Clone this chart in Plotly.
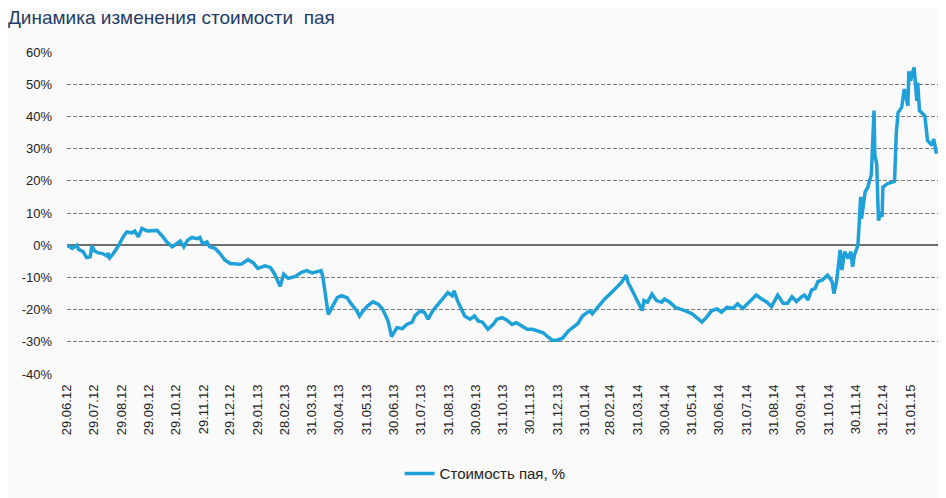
import plotly.graph_objects as go

# chart data
dates = [
    "2012-06-29", "2012-07-05", "2012-07-10", "2012-07-12", "2012-07-17", "2012-07-21",
    "2012-07-25", "2012-07-27", "2012-07-30", "2012-08-03", "2012-08-08", "2012-08-13",
    "2012-08-14", "2012-08-16", "2012-08-20", "2012-08-25", "2012-08-31", "2012-09-04",
    "2012-09-10", "2012-09-13", "2012-09-17", "2012-09-21", "2012-09-27", "2012-10-02",
    "2012-10-08", "2012-10-13", "2012-10-19", "2012-10-25", "2012-10-30", "2012-11-03",
    "2012-11-07", "2012-11-11", "2012-11-16", "2012-11-22", "2012-11-25", "2012-11-28",
    "2012-12-03", "2012-12-06", "2012-12-12", "2012-12-17", "2012-12-23", "2012-12-29",
    "2013-01-09", "2013-01-11", "2013-01-18", "2013-01-24", "2013-01-29", "2013-02-06",
    "2013-02-12", "2013-02-17", "2013-02-23", "2013-02-27", "2013-03-04", "2013-03-12",
    "2013-03-19", "2013-03-25", "2013-03-31", "2013-04-05", "2013-04-10", "2013-04-12",
    "2013-04-15", "2013-04-18", "2013-04-22", "2013-04-28", "2013-05-03", "2013-05-09",
    "2013-05-14", "2013-05-20", "2013-05-23", "2013-05-27", "2013-06-01", "2013-06-07",
    "2013-06-13", "2013-06-18", "2013-06-24", "2013-06-28", "2013-07-04", "2013-07-10",
    "2013-07-15", "2013-07-21", "2013-07-24", "2013-07-30", "2013-08-04", "2013-08-08",
    "2013-08-13", "2013-08-19", "2013-08-24", "2013-08-30", "2013-09-04", "2013-09-06",
    "2013-09-10", "2013-09-15", "2013-09-18", "2013-09-24", "2013-09-29", "2013-10-03",
    "2013-10-08", "2013-10-14", "2013-10-20", "2013-10-24", "2013-10-30", "2013-11-04",
    "2013-11-10", "2013-11-15", "2013-11-21", "2013-11-27", "2013-12-03", "2013-12-09",
    "2013-12-15", "2013-12-19", "2013-12-25", "2013-12-31", "2014-01-06", "2014-01-12",
    "2014-01-17", "2014-01-23", "2014-01-28", "2014-02-05", "2014-02-08", "2014-02-14",
    "2014-02-22", "2014-03-02", "2014-03-08", "2014-03-13", "2014-03-18", "2014-03-20",
    "2014-03-24", "2014-03-28", "2014-03-31", "2014-04-05", "2014-04-07", "2014-04-11",
    "2014-04-16", "2014-04-21", "2014-04-27", "2014-04-30", "2014-05-06", "2014-05-12",
    "2014-05-17", "2014-05-23", "2014-05-31", "2014-06-05", "2014-06-11", "2014-06-16",
    "2014-06-22", "2014-06-28", "2014-07-03", "2014-07-09", "2014-07-16", "2014-07-21",
    "2014-07-27", "2014-08-01", "2014-08-07", "2014-08-11", "2014-08-17", "2014-08-23",
    "2014-08-28", "2014-09-04", "2014-09-10", "2014-09-15", "2014-09-20", "2014-09-25",
    "2014-10-01", "2014-10-04", "2014-10-08", "2014-10-12", "2014-10-16", "2014-10-19",
    "2014-10-24", "2014-10-30", "2014-11-04", "2014-11-06", "2014-11-09", "2014-11-13",
    "2014-11-15", "2014-11-18", "2014-11-22", "2014-11-25", "2014-11-27", "2014-11-29",
    "2014-12-03", "2014-12-04", "2014-12-06", "2014-12-07", "2014-12-11", "2014-12-14",
    "2014-12-17", "2014-12-18", "2014-12-21", "2014-12-22", "2014-12-24", "2014-12-25",
    "2014-12-26", "2014-12-29", "2014-12-30", "2014-12-31", "2015-01-05", "2015-01-13",
    "2015-01-15", "2015-01-17", "2015-01-21", "2015-01-24", "2015-01-28", "2015-01-29",
    "2015-01-31", "2015-02-02", "2015-02-04", "2015-02-07", "2015-02-08", "2015-02-10",
    "2015-02-16", "2015-02-19", "2015-02-24", "2015-02-26", "2015-03-01",
]
values = [
    0.0, -1.0, 0.0, -1.3, -2.0, -3.8,
    -3.6, -0.2, -1.8, -2.4, -2.6, -3.4,
    -2.4, -3.9, -2.6, -0.5, 2.6, 4.1,
    3.8, 4.4, 2.6, 5.2, 4.4, 4.6,
    4.6, 3.1, 1.0, -0.5, 0.5, 1.3,
    -0.5, 1.5, 2.4, 2.0, 2.4, 0.5,
    1.0, -0.5, -1.0, -2.4, -4.6, -5.7,
    -5.9, -5.8, -4.5, -5.5, -7.2, -6.4,
    -6.9, -9.0, -12.8, -9.0, -10.3, -9.7,
    -8.4, -7.9, -8.6, -8.2, -7.9, -10.0,
    -16.8, -21.5, -19.4, -16.3, -15.7, -16.3,
    -18.3, -20.4, -22.0, -20.4, -18.9, -17.6,
    -18.3, -19.9, -23.5, -28.4, -25.6, -25.9,
    -24.6, -23.9, -22.0, -20.4, -20.9, -23.0,
    -20.4, -18.3, -16.8, -14.7, -15.7, -14.2,
    -17.3, -20.4, -22.0, -23.0, -22.0, -23.5,
    -23.9, -26.1, -24.6, -23.0, -22.5, -23.2,
    -24.6, -24.1, -25.1, -26.1, -26.1, -26.7,
    -27.2, -28.2, -29.5, -29.5, -28.8, -26.7,
    -25.6, -24.3, -22.0, -20.4, -21.3, -19.3,
    -16.7, -14.6, -12.8, -11.5, -9.3, -11.5,
    -13.6, -15.7, -17.7, -20.3, -17.2, -17.7,
    -15.2, -17.2, -17.7, -16.7, -17.7, -19.3,
    -19.8, -20.3, -21.3, -22.4, -23.9, -22.4,
    -20.3, -19.8, -20.8, -19.3, -19.6, -18.2,
    -19.6, -18.2, -16.7, -15.5, -16.7, -17.7,
    -19.1, -15.5, -18.0, -18.0, -16.0, -17.5,
    -16.0, -15.5, -17.0, -13.9, -13.4, -11.3,
    -10.8, -9.3, -11.3, -15.0, -11.3, -1.5,
    -7.7, -2.0, -4.1, -2.0, -6.7, -3.1,
    0.0, 7.2, 15.0, 8.2, 16.5, 18.0,
    21.6, 22.0, 41.8, 27.8, 25.3, 14.4,
    7.7, 10.3, 8.8, 18.0, 19.1, 19.8,
    35.0, 41.2, 42.8, 48.5, 43.3, 54.0,
    51.0, 53.6, 55.2, 44.8, 50.5, 41.8,
    40.2, 32.5, 31.0, 33.0, 28.4,
]

tick_dates = [
    "2012-06-29", "2012-07-29", "2012-08-29", "2012-09-29", "2012-10-29", "2012-11-29",
    "2012-12-29", "2013-01-29", "2013-02-28", "2013-03-31", "2013-04-30", "2013-05-31",
    "2013-06-30", "2013-07-31", "2013-08-31", "2013-09-30", "2013-10-31", "2013-11-30",
    "2013-12-31", "2014-01-31", "2014-02-28", "2014-03-31", "2014-04-30", "2014-05-31",
    "2014-06-30", "2014-07-31", "2014-08-31", "2014-09-30", "2014-10-31", "2014-11-30",
    "2014-12-31", "2015-01-31",
]
tick_labels = [d[8:10] + "." + d[5:7] + "." + d[2:4] for d in tick_dates]
y_ticks = [60, 50, 40, 30, 20, 10, 0, -10, -20, -30, -40]
y_labels = [f"{v}%" for v in y_ticks]

fig = go.Figure()
fig.add_trace(go.Scatter(
    x=dates, y=values,
    mode="lines",
    name="Стоимость пая, %",
    line=dict(color="#1ea0d8", width=3.5),
))

# the page body has an 8px margin, so the figure is a bit smaller and shifted
fig.update_layout(
    width=938, height=490,
    margin=dict(l=59, r=6, t=44, b=124, autoexpand=False),
    paper_bgcolor="#fafafa",
    plot_bgcolor="#fafafa",
    font=dict(family="Liberation Sans, Arial", size=13, color="#222"),
    title=dict(
        text="Динамика изменения стоимости  пая",
        font=dict(size=19, color="#1f3d66"),
        x=0, xanchor="left", xref="container",
        y=0.98, yanchor="middle", yref="container",
    ),
    showlegend=True,
    legend=dict(
        orientation="h",
        x=0.381, xanchor="left",
        y=-0.31, yanchor="middle",
        bgcolor="rgba(0,0,0,0)",
        font=dict(size=15, color="#222"),
    ),
)

fig.update_xaxes(
    type="date",
    range=["2012-06-29", "2015-03-05"],
    tickmode="array",
    tickvals=tick_dates,
    ticktext=tick_labels,
    tickangle=-90,
    tickfont=dict(size=13),
    showgrid=False,
    zeroline=False,
    showline=False,
    ticks="",
    ticklabelstandoff=7,
)

fig.update_yaxes(
    range=[-40, 60],
    tickmode="array",
    tickvals=y_ticks,
    ticktext=y_labels,
    tickfont=dict(size=13),
    showgrid=True,
    gridcolor="#7a7a7a",
    gridwidth=1,
    griddash="4px,2px",
    zeroline=True,
    zerolinecolor="#6e6e6e",
    zerolinewidth=1.5,
    ticks="",
    ticklabelstandoff=14,
)

fig.write_html("out.html")
